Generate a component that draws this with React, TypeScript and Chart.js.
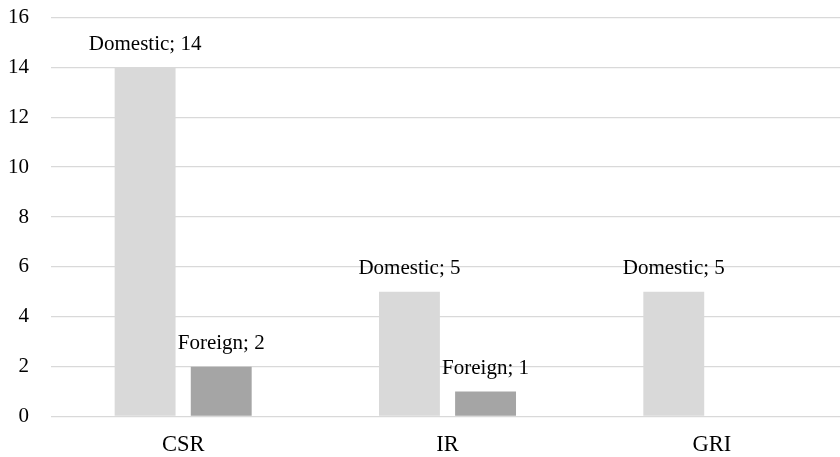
import React, { useEffect, useRef } from "react";
import { Chart, registerables } from "chart.js";

Chart.register(...registerables);

const categories = ["CSR", "IR", "GRI"];
const domesticValues = [14, 5, 5];
const foreignValues = [2, 1, 0];
const seriesNames = ["Domestic", "Foreign"];
const yTicks = [0, 2, 4, 6, 8, 10, 12, 14, 16];

const FONT = "'Liberation Serif', 'Times New Roman', serif";

const labelPlugin = {
  id: "barLabels",
  afterDatasetsDraw(chart: any) {
    const ctx = chart.ctx;
    ctx.save();
    ctx.font = `21px ${FONT}`;
    ctx.fillStyle = "#000000";
    ctx.textAlign = "center";
    ctx.textBaseline = "middle";
    chart.data.datasets.forEach((ds: any, di: number) => {
      const meta = chart.getDatasetMeta(di);
      meta.data.forEach((el: any, i: number) => {
        const v = ds.data[i];
        if (!v) return;
        ctx.fillText(`${ds.label}; ${v}`, el.x, el.y - 23);
      });
    });
    ctx.restore();
  },
};

export default function App() {
  const ref = useRef<HTMLCanvasElement>(null);
  useEffect(() => {
    if (!ref.current) return;
    const chart = new Chart(ref.current, {
      type: "bar",
      data: {
        labels: categories,
        datasets: [
          {
            label: seriesNames[0],
            data: domesticValues,
            backgroundColor: "#d9d9d9",
            categoryPercentage: 0.576,
            barPercentage: 0.8,
          },
          {
            label: seriesNames[1],
            data: foreignValues,
            backgroundColor: "#a5a5a5",
            categoryPercentage: 0.576,
            barPercentage: 0.8,
          },
        ],
      },
      options: {
        responsive: false,
        animation: false,
        layout: { padding: { top: 17.5, right: 0, left: 0, bottom: 0 } },
        plugins: {
          legend: { display: false },
          title: { display: false },
          tooltip: { enabled: false },
        },
        scales: {
          x: {
            grid: { display: false, drawTicks: false },
            border: { display: false },
            ticks: {
              font: { family: FONT, size: 22.5 },
              color: "#000000",
              padding: 15,
            },
            afterFit(scale: any) {
              scale.height = 40.5;
              scale.paddingTop = 0;
              scale.paddingBottom = 0;
            },
          },
          y: {
            min: 0,
            max: 16,
            afterBuildTicks(scale: any) {
              scale.ticks = yTicks.map((v) => ({ value: v }));
            },
            grid: { color: "#d9d9d9", lineWidth: 1.3, drawTicks: false },
            border: { display: false },
            ticks: {
              font: { family: FONT, size: 21 },
              color: "#000000",
              padding: 22,
            },
            afterFit(scale: any) {
              scale.width = 51;
              scale.paddingTop = 0;
              scale.paddingBottom = 0;
            },
          },
        },
      },
      plugins: [labelPlugin],
    });
    return () => chart.destroy();
  }, []);
  return (
    <div
      style={{
        position: "fixed",
        left: 0,
        top: 0,
        width: 840,
        height: 457,
        overflow: "hidden",
        background: "#ffffff",
      }}
    >
      <canvas ref={ref} width={844} height={457} style={{ width: 844, height: 457, display: "block" }} />
    </div>
  );
}
